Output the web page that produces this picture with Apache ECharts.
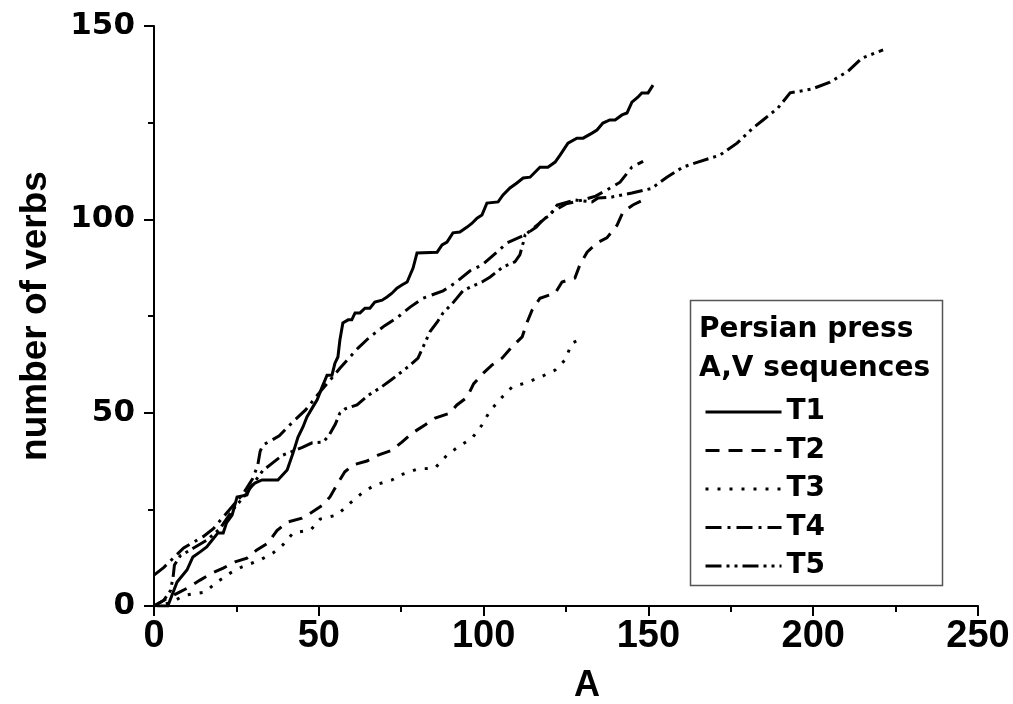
<!DOCTYPE html>
<html>
<head>
<meta charset="utf-8">
<script src="https://cdn.jsdelivr.net/npm/echarts@6/dist/echarts.min.js"></script>
<style>
html,body{margin:0;padding:0;background:#fff;}
#chart{width:1013px;height:704px;}
</style>
</head>
<body>
<div id="chart"></div>
<script>
// ---- data ----
const seriesNames = ['T1', 'T2', 'T3', 'T4', 'T5'];
const xTicks = [0, 50, 100, 150, 200, 250];
const yTicks = [0, 50, 100, 150];

const t1x = [1,4.2,7,10,11.8,14,16,17.6,19.4,21,22,23.7,25.2,28.2,29,30.6,32.8,37.6,40.4,42.2,43.7,45.2,46.4,48.2,49.5,51,52.5,54,54.9,55.8,56.4,57.3,58.9,60,61,62.5,64,65.5,67,69.2,70.7,72.2,73.7,75.2,76.8,77.7,78.6,79.8,85.9,87.4,88.9,90.7,92.8,95,96.5,98,99.5,101,104.4,105.9,108,110.1,112,114.1,117.1,119.5,121.7,123.2,125.6,128.3,130.2,132.9,134.4,136.2,138.3,139.9,142,143.5,145,146.8,148,149.9,151.4];
const t1y = [0,0,6.2,9.3,12.7,14,15.3,17,18.9,18.9,21.5,23.5,28.2,28.7,30.5,31.8,32.6,32.6,35.2,39.6,43.7,46.3,48.9,51.5,53.3,56.6,59.7,59.7,62.8,64.4,68.8,73.2,74,74,75.8,75.8,77,77,78.6,79.1,79.9,80.9,82.2,83,83.8,85.6,87.4,91.3,91.5,93.4,94.1,96.5,96.7,98,99,100.3,101.1,104.2,104.5,106.3,108.1,109.4,110.7,110.9,113.5,113.5,114.8,116.6,119.7,121,121,122.3,123.1,124.9,125.7,125.7,127,127.5,130.3,131.6,132.7,132.7,134.7];

const t2x = [0,3,7.3,10.3,14,17.6,21,24.6,28.2,31.2,34.6,37.3,40.4,44.9,48,51,53.4,55.8,57.9,60.4,64.6,68,72.2,75.2,78.3,82.2,85.3,89.8,91.9,95,97,100,102.5,105.6,108.6,111.7,113.2,114.7,117.1,121.7,123.8,127.7,129.2,131.4,134.4,137.4,140.5,142.3,145.3,148.4];
const t2y = [0,1.5,3.4,4.7,6.7,8.5,9.8,11.4,12.4,14.5,16.3,19.5,21.7,22.7,24.3,26,28.2,31.8,34.7,36.5,37.5,39,40.3,42.4,44.7,46.8,48.6,49.9,52,54,57.5,60.3,62.3,64.1,67,69.6,73.4,76.5,79.6,80.9,83.8,84.8,88.2,91.5,93.9,95.2,98.5,101.9,103.7,105];

const t3x = [0,2,4.9,9.4,15.5,19.1,23.1,26.7,32.2,36.1,39.1,42.2,47.6,50.4,55.5,59.5,63.1,67,72.2,75.5,79.8,85.3,88.9,92.2,96.5,99.5,101.9,105.6,108.6,113.5,118,121.7,124.7,126.8,130.2];
const t3y = [0,0.3,0.8,2.8,3.6,6.2,8.5,10.1,11.9,13.7,15.8,18.9,19.7,22.5,23.5,26.6,29.2,31.3,32.6,34.1,35.4,35.7,39,41.1,43.4,46.8,50.4,54,56.6,57.9,59.5,61,63.6,68,69.3];

const t4x = [0,3,6,9,12,15,18,21,24,27,30,31.5,32.2,33,38,42,46,50,54,56.4,58.6,61.9,65.5,70,73.7,77.7,81.6,87.7,91.3,95.9,99.5,104,107.1,112.6,117,121,125,130,134,137.4,141.4,145,148.4];
const t4y = [8,10,12.5,15,16.5,18,20,23,26,29,33,36.5,40,41.6,44,47.5,50.7,55,59,61.5,63.6,66.7,69.6,72.5,74.5,77.3,79.6,81.5,83.5,86.7,88.2,91.5,93.9,96,99,102,104,105,106,107.6,109.6,113.5,115];

const t5x = [0,3,5,5.8,6.2,8,12,16,20,24,28,30,33,36,39,42,45,48,51.3,53,55,56.4,58,61.6,65,68.6,72,77,80.1,83.7,85.9,87.7,90.7,93.7,96,99.5,102,105.9,109.5,111,112,112.6,116,118,120.1,122.3,127.7,132.9,134.7,139,145,151,153.5,155.6,160.5,165,171.7,176.9,181.7,184.8,189.3,193,199.6,205.1,210.6,214.8,221.2];
const t5y = [0,1.5,4,7.5,10.6,13,15,17,20,25,29,31.5,35,37,39,40,41,42.2,42.4,44,47,49.9,51,52,54.5,56.4,58.5,61.8,64.1,70.9,73.4,75.8,78.4,81.5,82.5,83.8,85.1,87.7,89,90.8,93.9,96,98,100,101,103.7,105,104.5,105.5,105.8,106.8,108,109.6,110.9,113.5,114.8,116.6,119.7,123.6,125.7,128.8,132.7,133.7,135.5,138.3,141.7,143.8];

const xs = [t1x, t2x, t3x, t4x, t5x];
const ys = [t1y, t2y, t3y, t4y, t5y];
const dashes = ['solid', [14, 9], [3, 9], [16, 6, 3, 6], [16, 5, 3, 5, 3, 5]];

const WIDE = '"DejaVu Sans", Verdana, sans-serif';
const ARIAL = '"Liberation Sans", Arial, sans-serif';

const series = seriesNames.map((name, i) => ({
  name: name,
  type: 'line',
  symbol: 'none',
  data: xs[i].map((x, k) => [x, ys[i][k]]),
  lineStyle: { color: '#000', width: 3, type: dashes[i], cap: 'butt', join: 'miter' },
  itemStyle: { color: '#000' },
  animation: false
}));

const chart = echarts.init(document.getElementById('chart'), null, { renderer: 'canvas' });
chart.setOption({
  backgroundColor: '#fff',
  animation: false,
  grid: { left: 154, right: 35, top: 26, bottom: 98, containLabel: false, outerBoundsMode: 'none' },
  xAxis: {
    type: 'value', min: 0, max: 250, interval: 50,
    name: 'A', nameLocation: 'middle', nameGap: 62,
    nameTextStyle: { fontFamily: ARIAL, fontWeight: 'bold', fontSize: 36, color: '#000', padding: [0, 0, 0, 42] },
    axisLine: { show: true, lineStyle: { color: '#000', width: 2 } },
    axisTick: { show: true, inside: false, length: 10, lineStyle: { color: '#000', width: 2 } },
    minorTick: { show: true, splitNumber: 2, length: 6, lineStyle: { color: '#000', width: 2 } },
    splitLine: { show: false },
    axisLabel: { margin: 12, fontFamily: ARIAL, fontWeight: 'bold', fontSize: 38, color: '#000',
      formatter: v => xTicks.includes(v) ? String(v) : '' }
  },
  yAxis: {
    type: 'value', min: 0, max: 150, interval: 50,
    name: 'number of verbs', nameLocation: 'middle', nameGap: 100,
    nameTextStyle: { fontFamily: ARIAL, fontWeight: 'bold', fontSize: 37, color: '#000' },
    axisLine: { show: true, lineStyle: { color: '#000', width: 2 } },
    axisTick: { show: true, inside: false, length: 10, lineStyle: { color: '#000', width: 2 } },
    minorTick: { show: true, splitNumber: 2, length: 6, lineStyle: { color: '#000', width: 2 } },
    splitLine: { show: false },
    axisLabel: { margin: 19, fontFamily: WIDE, fontWeight: 'bold', fontSize: 31, color: '#000',
      formatter: v => yTicks.includes(v) ? String(v) : '' }
  },
  legend: {
    show: true,
    data: seriesNames,
    orient: 'vertical',
    left: 699, top: 392,
    itemWidth: 76, itemHeight: 14, itemGap: 8.5,
    selectedMode: false,
    itemStyle: { opacity: 0 },
    textStyle: { fontFamily: WIDE, fontWeight: 'bold', fontSize: 28, color: '#000', lineHeight: 30 },
    lineStyle: { width: 3 }
  },
  graphic: [
    { type: 'rect', left: 688, top: 298, shape: { width: 252, height: 285 },
      style: { fill: 'none', stroke: '#555', lineWidth: 1.5 }, z: 100 },
    { type: 'text', left: 699, top: 316, style: { text: 'Persian press', fill: '#000',
      font: 'bold 28px "DejaVu Sans", Verdana, sans-serif' }, z: 100 },
    { type: 'text', left: 699, top: 355, style: { text: 'A,V sequences', fill: '#000',
      font: 'bold 28px "DejaVu Sans", Verdana, sans-serif' }, z: 100 }
  ],
  series: series
});
</script>
</body>
</html>
